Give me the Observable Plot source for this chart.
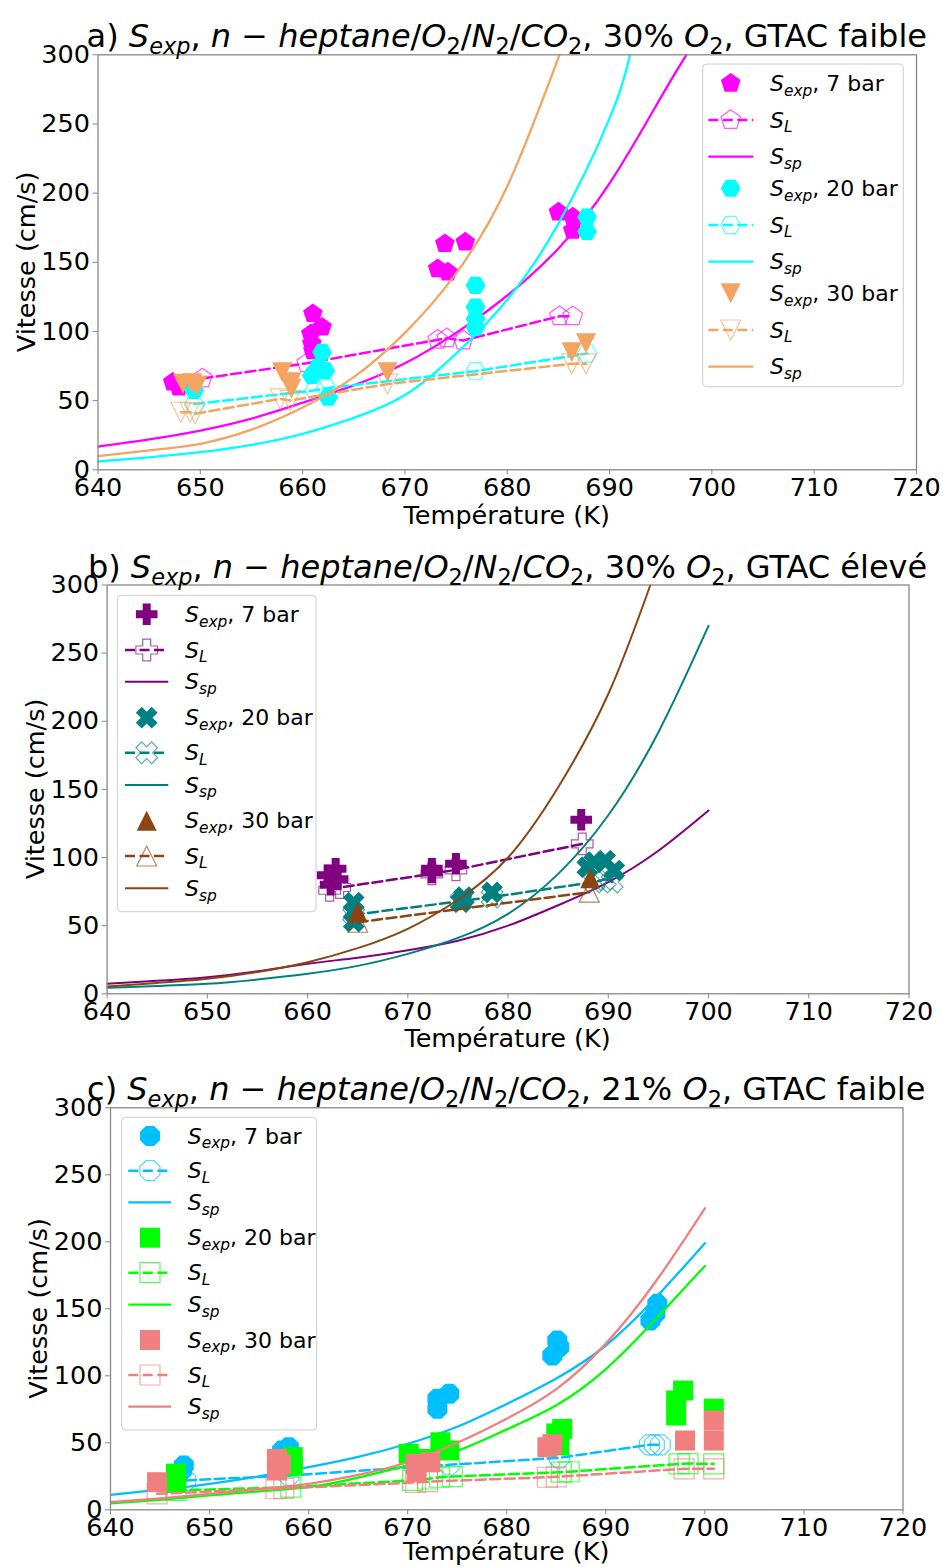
<!DOCTYPE html>
<html><head><meta charset="utf-8">
<script src="https://cdn.jsdelivr.net/npm/d3@7"></script>
<script src="https://cdn.jsdelivr.net/npm/@observablehq/plot@0.6"></script>
<style>
html,body{margin:0;padding:0;background:#fff;overflow:hidden;}
#root{position:relative;width:943px;height:1567px;overflow:hidden;font-family:"DejaVu Sans";}
</style></head><body><div id="root"></div>
<script>
// ---------- axis ticks ----------
const xTicks = [640,650,660,670,680,690,700,710,720];
const yTicks = [0,50,100,150,200,250,300];

// ---------- panel a : 30% O2, GTAC faible ----------
const aExp7 = [[647.3,63.3],[647.9,59.7],[661.0,112.8],[661.9,103.1],[660.8,98.3],[660.9,91.1],[661.0,86.0],[673.9,163.4],[675.9,164.6],[673.2,145.3],[674.2,142.9],[685.0,186.3],[686.4,182.7],[686.4,173.0]];
const aSL7 = [[650.2,66.0],[660.4,77.0],[673.2,94.0],[674.1,95.0],[675.7,93.5],[685.1,111.0],[686.4,111.0]];
const aSp7 = [[640,16.8],[645,22],[650,28.4],[655,37],[660,48.5],[665,61],[670,77],[675,99],[680,126],[685,160],[690,207],[695,269],[697.5,300]];
const aExp20 = [[649.4,57.3],[661.9,85.0],[661.5,74.2],[660.9,68.2],[662.2,71.8],[662.5,52.5],[676.9,133.3],[676.9,117.6],[676.9,109.2],[676.9,103.1],[687.8,182.7],[687.8,172.3]];
const aSL20 = [[649.4,47.5],[661.2,57.5],[662.3,59.0],[676.9,71.3],[687.8,84.0]];
const aSp20 = [[640,6],[645,9],[650,12.7],[655,18],[660,26],[665,37.5],[670,54],[675,84],[680,123],[685,178],[690,254],[692,300]];
const aExp30 = [[648.3,62.2],[649.2,62.6],[649.7,61.0],[658.0,70.6],[658.9,63.3],[658.9,58.6],[668.3,70.6],[686.3,85.0],[687.7,91.5]];
const aSL30 = [[648.1,41.6],[649.0,41.6],[649.5,40.5],[657.8,51.3],[658.8,50.1],[668.3,62.0],[686.3,76.6],[687.7,76.6]];
const aSp30 = [[640,9.9],[645,14],[650,18.8],[655,29],[660,45],[665,67],[670,99],[675,142],[680,205],[685.1,300]];

// ---------- panel b : 30% O2, GTAC élevé ----------
const bExp7 = [[662.8,91.7],[662.0,87.0],[662.3,80.0],[663.0,84.0],[672.4,91.7],[672.4,89.0],[674.8,95.4],[687.3,127.7]];
const bSL7 = [[662.2,76.0],[663.2,78.0],[672.4,88.0],[674.8,91.0],[687.4,110.0]];
const bSp7 = [[640,7.3],[645,9.5],[650,12.2],[655,16.5],[660,22],[665,26.5],[670,32],[675,39],[680,50],[685,65],[690,82],[695,105],[700,134.5]];
const bExp20 = [[664.6,67.0],[664.6,60.0],[664.6,53.0],[675.6,70.9],[675.3,67.2],[678.4,74.5],[688.6,96.6],[689.7,97.8],[690.6,90.5],[687.9,92.9]];
const bSL20 = [[664.6,58.0],[675.3,68.0],[678.4,71.0],[688.6,82.0],[689.7,84.0],[690.4,82.0]];
const bSp20 = [[640,4.4],[645,5.7],[650,7.3],[655,10.5],[660,14.7],[665,20.5],[670,29.3],[675,41],[680,58.7],[685,88],[690,131],[695,192],[700,270]];
const bExp30 = [[665.0,59.9],[688.2,84.8]];
const bSL30 = [[665.0,52.5],[688.1,74.6]];
const bSp30 = [[640,5.4],[645,8],[650,11],[655,16],[660,23.2],[665,33.5],[670,47.7],[675,69],[680,100],[685,151.6],[690,220],[694.2,300]];

// ---------- panel c : 21% O2, GTAC faible ----------
const cExp7 = [[647.4,33.1],[647.2,29.3],[658.0,46.7],[657.3,44.2],[674.2,86.6],[673.0,82.8],[673.0,75.4],[685.1,126.3],[685.3,121.4],[684.6,115.1],[695.2,153.7],[695.0,146.5],[694.5,141.3]];
const cSL7 = [[647.6,21.9],[658.0,25.6],[674.2,33.6],[685.3,38.8],[694.4,48.5],[694.9,48.5],[695.5,48.5]];
const cSp7 = [[640,11.2],[645,15],[650,19.4],[655,25],[660,31.8],[665,39.5],[670,49.3],[675,62],[680,79],[685,98],[690,122.6],[695,158],[700,199]];
const cExp20 = [[646.6,27.0],[646.6,20.0],[658.4,39.3],[658.4,33.0],[670.1,41.8],[671.4,38.0],[673.3,50.4],[674.2,44.3],[685.6,60.4],[685.0,57.0],[685.3,48.0],[697.8,89.0],[697.1,81.6],[697.1,70.4],[700.9,75.4]];
const cSL20 = [[646.6,14.4],[658.2,16.9],[670.5,22.0],[672.0,23.0],[673.2,24.3],[674.5,24.8],[685.5,28.1],[686.3,28.4],[697.4,34.3],[698.3,34.5],[700.9,34.3]];
const cSp20 = [[640,4.9],[645,7.5],[650,10.7],[655,13.8],[660,16.9],[665,24],[670,33.1],[675,44],[680,60],[685,78],[690,105],[695,142],[700,182]];
const cExp30 = [[644.7,20.6],[656.8,38.0],[656.8,29.3],[657.2,34.0],[670.8,34.3],[672.3,35.5],[670.9,28.0],[684.1,46.7],[684.6,49.0],[698.0,51.7],[700.9,66.6],[700.9,51.7]];
const cSL30 = [[644.7,11.9],[656.7,15.7],[657.5,16.0],[670.8,20.4],[672.0,21.0],[684.1,24.3],[685.0,24.6],[697.9,30.6],[700.9,30.6]];
const cSp30 = [[640,5.7],[645,8.5],[650,11.9],[655,15.5],[660,19.4],[665,26],[670,35.5],[675,50],[680,68],[685,90],[690,124],[695,170],[700,225]];

// ---------- marker symbols (matplotlib-like) ----------
function poly(pts){ return {draw(ctx,size){ const R=Math.sqrt(size/Math.PI); pts.forEach(([px,py],i)=> i?ctx.lineTo(px*R,py*R):ctx.moveTo(px*R,py*R)); ctx.closePath(); }}; }
const ring = (n, off) => d3.range(n).map(k => { const a=(off+k*360/n)*Math.PI/180; return [Math.cos(a), Math.sin(a)]; });
const pentagon = poly(ring(5,-90));
const hexagon = poly(ring(6,0));
const octagon = poly(ring(8,22.5));
const triDown = poly([[-1,-1],[1,-1],[0,1]]);
const triUp = poly([[0,-1],[-1,1],[1,1]]);
const square = poly([[-1,-1],[1,-1],[1,1],[-1,1]]);
const th = 0.37;
const plusPts = [[-th,-1],[th,-1],[th,-th],[1,-th],[1,th],[th,th],[th,1],[-th,1],[-th,th],[-1,th],[-1,-th],[-th,-th]];
const plusF = poly(plusPts);
const crossF = poly(plusPts.map(([x,y])=>[(x-y)/Math.SQRT2,(x+y)/Math.SQRT2]));

// ---------- text helpers ----------
const R = t => ({t}); const I = t => ({t, i:true}); const Sb = (t,i=false) => ({t, sub:true, i});
const formula = [I("n"), R(" − "), I("heptane"), R("/"), I("O"), Sb("2"), R("/"), I("N"), Sb("2"), R("/"), I("CO"), Sb("2")];
const mkTitle = (lead, pct, tail) => [R(lead), I("S"), Sb("exp",true), R(", "), ...formula, R(", "+pct+"% "), I("O"), Sb("2"), R(", "+tail)];

const panels = [
  {L:97.5, Rr:916, T:54.3, B:469.3, svgTop:0, lw:2.3, xl:55,
   title: mkTitle("a) ","30","GTAC faible"),
   series:[
     {exp:aExp7, sl:aSL7, sp:aSp7, color:"#ff00ff", sym:pentagon, r:10.3, p:"7"},
     {exp:aExp20, sl:aSL20, sp:aSp20, color:"#00ffff", sym:hexagon, r:9.9, p:"20"},
     {exp:aExp30, sl:aSL30, sp:aSp30, color:"#f4a460", sym:triDown, r:10, p:"30"}],
   legend:{x:702.7, y:64, w:200.6, h:322.7, l0:708.3, l1:753.3, m:730.7, tx:770,
           rows:[83.3,120,156.7,188.3,225,261.7,293.3,330,366.7]}},
  {L:106.6, Rr:908.5, T:584.5, B:993.3, svgTop:535, lw:2.0, xl:54,
   title: mkTitle("b) ","30","GTAC élevé"),
   series:[
     {exp:bExp7, sl:bSL7, sp:bSp7, color:"#800080", sym:plusF, r:10.8, p:"7"},
     {exp:bExp20, sl:bSL20, sp:bSp20, color:"#008080", sym:crossF, r:11.2, p:"20"},
     {exp:bExp30, sl:bSL30, sp:bSp30, color:"#8b4513", sym:triUp, r:10, p:"30"}],
   legend:{x:117.3, y:595.3, w:198.7, h:316.4, l0:125, l1:168.3, m:146.7, tx:185,
           rows:[614.3,650,681.7,717.7,752.7,785,820.7,856,888.3]}},
  {L:110, Rr:902.5, T:1107.3, B:1509.3, svgTop:1055, lw:2.3, xl:51,
   title: mkTitle("c) ","21","GTAC faible"),
   series:[
     {exp:cExp7, sl:cSL7, sp:cSp7, color:"#00bfff", sym:octagon, r:10.8, p:"7"},
     {exp:cExp20, sl:cSL20, sp:cSp20, color:"#00ff00", sym:square, r:10, p:"20"},
     {exp:cExp30, sl:cSL30, sp:cSp30, color:"#f08080", sym:square, r:10, p:"30"}],
   legend:{x:121.7, y:1117.3, w:195, h:312.7, l0:128.3, l1:171, m:150, tx:187.7,
           rows:[1136,1170.7,1202.3,1237.7,1272.7,1304.7,1340,1375,1406.7]}}
];

const FS = 25.5, TFS = 32, LFS = 22;
const DASH = "10,4.5";
const root = document.getElementById("root");
const X = d => d[0], Y = d => d[1];

for (const P of panels) {
  const marks = [];
  for (const s of P.series) {
    marks.push(Plot.dot(s.exp, {x:X, y:Y, symbol:s.sym, r:s.r, fill:s.color, stroke:"none"}));
    marks.push(Plot.line(s.sl, {x:X, y:Y, stroke:s.color, strokeWidth:2.5, strokeDasharray:DASH, clip:true}));
    marks.push(Plot.dot(s.sl, {x:X, y:Y, symbol:s.sym, r:s.r, fill:"none", stroke:s.color, strokeWidth:1.2, strokeOpacity:0.65}));
    marks.push(Plot.line(s.sp, {x:X, y:Y, stroke:s.color, strokeWidth:P.lw, curve:"natural", clip:true}));
  }
  marks.push(Plot.frame({stroke:"#888", strokeWidth:1.3}));
  marks.push(Plot.axisX({ticks:xTicks, tickSize:5, tickPadding:3, label:null, stroke:"#888", fill:"black"}));
  marks.push(Plot.axisY({ticks:yTicks, tickSize:5, tickPadding:3, label:null, stroke:"#888", fill:"black"}));
  const H = P.B - P.svgTop + 38;
  const svg = Plot.plot({
    width:943, height:H,
    marginLeft:P.L, marginRight:943-P.Rr, marginTop:P.T-P.svgTop, marginBottom:38,
    x:{domain:[640,720]}, y:{domain:[0,300]},
    style:{fontFamily:"DejaVu Sans", fontSize:FS+"px", background:"transparent", color:"black", overflow:"visible"},
    marks
  });
  svg.style.position = "absolute"; svg.style.left = "0px"; svg.style.top = P.svgTop+"px";
  svg.style.maxWidth = "none";
  root.appendChild(svg);
}

// ---------- overlay: titles, axis labels, legends ----------
const ov = d3.select(root).append("svg").attr("width",943).attr("height",1567)
  .style("position","absolute").style("left","0px").style("top","0px").style("pointer-events","none");

function richText(g, x, y, parts, size, anchor="start") {
  const t = g.append("text").attr("x",x).attr("y",y).attr("font-size",size)
    .attr("text-anchor",anchor).attr("font-family","DejaVu Sans").attr("fill","black");
  let cur = 0;
  for (const p of parts) {
    const target = p.sub ? 0.22*size : 0;
    const ts = t.append("tspan").text(p.t);
    if (target !== cur) { ts.attr("dy", target-cur); cur = target; }
    if (p.sub) ts.attr("font-size", 0.7*size);
    if (p.i) ts.attr("font-style","italic");
  }
  return t;
}
function symPath(g, sym, r, cx, cy, fill, stroke, sw, so) {
  const p = d3.path(); sym.draw(p, Math.PI*r*r);
  g.append("path").attr("d", p.toString()).attr("transform",`translate(${cx},${cy})`)
    .attr("fill",fill).attr("stroke",stroke).attr("stroke-width",sw).attr("stroke-opacity",so);
}

for (const P of panels) {
  const cx = (P.L + P.Rr)/2, cy = (P.T + P.B)/2;
  richText(ov, cx, P.T - 7, P.title, TFS, "middle");
  richText(ov, cx, P.B + P.xl, [R("Température (K)")], FS, "middle");
  const yl = ov.append("g").attr("transform",`translate(${P.L-63},${cy}) rotate(-90)`);
  richText(yl, 0, 0, [R("Vitesse (cm/s)")], FS, "middle");

  const lg = P.legend, g = ov.append("g");
  g.append("rect").attr("x",lg.x).attr("y",lg.y).attr("width",lg.w).attr("height",lg.h)
    .attr("rx",4).attr("fill","white").attr("fill-opacity",0.8).attr("stroke","#cccccc").attr("stroke-width",1);
  P.series.forEach((s, k) => {
    const y0 = lg.rows[3*k], y1 = lg.rows[3*k+1], y2 = lg.rows[3*k+2];
    symPath(g, s.sym, s.r, lg.m, y0, s.color, "none", 0, 1);
    richText(g, lg.tx, y0+7.5, [I("S"), Sb("exp",true), R(", "+s.p+" bar")], LFS);
    g.append("line").attr("x1",lg.l0).attr("x2",lg.l1).attr("y1",y1).attr("y2",y1)
      .attr("stroke",s.color).attr("stroke-width",2.5).attr("stroke-dasharray",DASH);
    symPath(g, s.sym, s.r, lg.m, y1, "none", s.color, 1.2, 0.65);
    richText(g, lg.tx, y1+7.5, [I("S"), Sb("L",true)], LFS);
    g.append("line").attr("x1",lg.l0).attr("x2",lg.l1).attr("y1",y2).attr("y2",y2)
      .attr("stroke",s.color).attr("stroke-width",P.lw);
    richText(g, lg.tx, y2+7.5, [I("S"), Sb("sp",true)], LFS);
  });
}
</script></body></html>
